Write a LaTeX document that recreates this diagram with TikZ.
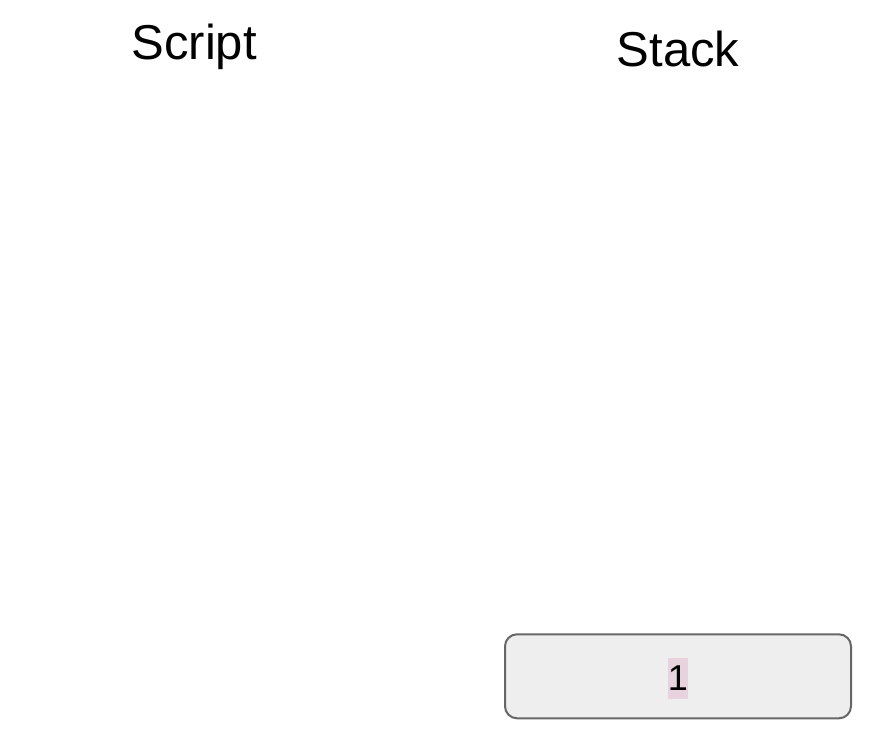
\documentclass[tikz,border=0pt]{standalone}
\usepackage{fontspec}
\setmainfont{Liberation Sans}
\definecolor{boxfill}{HTML}{EEEEEE}
\definecolor{boxline}{HTML}{666666}
\definecolor{hlpink}{HTML}{E8D2DE}
\tikzset{
  title/.style={font=\fontsize{49}{56}\selectfont, inner sep=0pt, anchor=base},
  stackbox/.style={draw=boxline, fill=boxfill, line width=2pt, rounded corners=12pt, minimum width=346pt, minimum height=84pt, inner sep=0pt},
  valuelabel/.style={font=\fontsize{36}{40}\selectfont, fill=hlpink, inner xsep=0pt, inner ysep=0pt, text height=31.7pt, text depth=8.7pt, anchor=base}
}
\begin{document}
\begin{tikzpicture}[x=1pt,y=-1pt]
\useasboundingbox (0,0) rectangle (892,735);
\node[title] (script) at (194.2,60) {Script};
\node[title] (stack) at (678,66.7) {Stack};
\node[stackbox] (box) at (678,676.3) {};
\node[valuelabel] (one) at (677.8,690) {1};
\end{tikzpicture}
\end{document}
